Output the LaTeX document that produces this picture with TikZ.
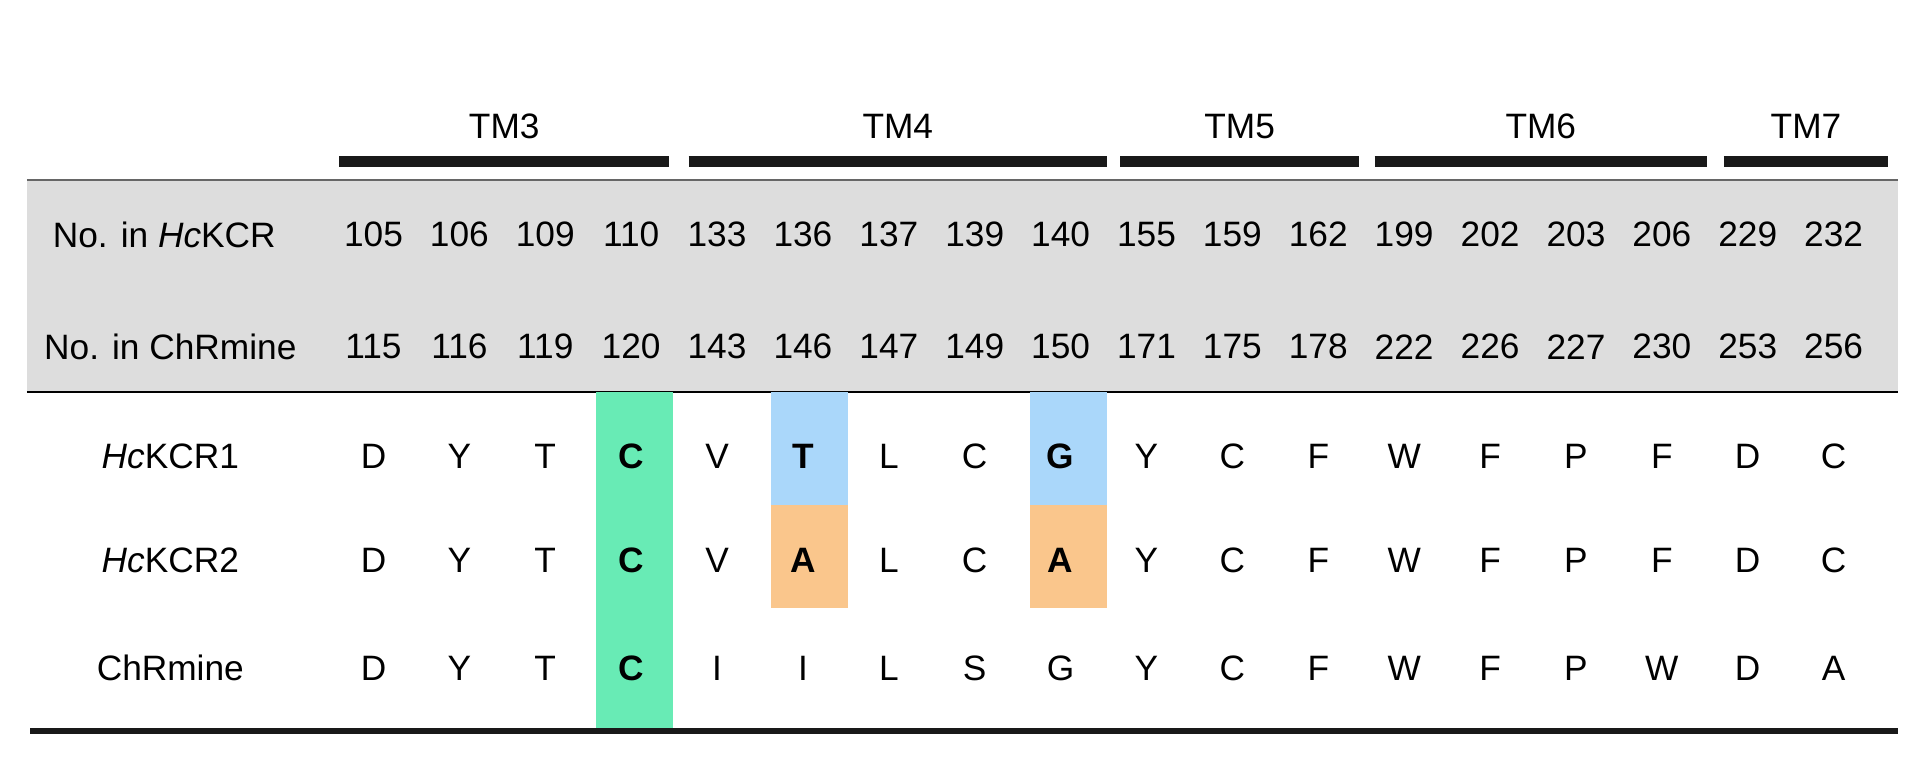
\documentclass[tikz,border=0pt]{standalone}
\usepackage{fontspec}
\setmainfont{Liberation Sans}
\begin{document}
\begin{tikzpicture}[x=1pt,y=-1pt,
  txt/.style={font=\fontsize{29}{34}\selectfont, inner sep=0pt, anchor=center},
  hl/.style={font=\fontsize{29}{34}\selectfont\bfseries, inner sep=0pt, anchor=center},
  tmbar/.style={line width=9pt, draw=black!90}]
\useasboundingbox (0,0) rectangle (1570,626);
\definecolor{gband}{RGB}{221,221,221}
\definecolor{hgreen}{RGB}{104,235,181}
\definecolor{hblue}{RGB}{170,215,250}
\definecolor{horange}{RGB}{250,198,140}
% gray band
\fill[gband] (22,148) rectangle (1560,322);
\draw[line width=2pt, black!60] (22,148) -- (1560,148);
\draw[line width=2pt] (22,322) -- (1560,322);
% highlights
\fill[hgreen] (490,322) rectangle (553,600);
\fill[hblue] (634,322) rectangle (697,415);
\fill[horange] (634,415) rectangle (697,500);
\fill[hblue] (847,322) rectangle (910,415);
\fill[horange] (847,415) rectangle (910,500);
\draw[line width=5pt, black!90] (25,601) -- (1560,601);
% TM bars
\foreach \a/\b/\n in {279/550/TM3,566/910/TM4,921/1117/TM5,1130/1403/TM6,1417/1552/TM7}{
  \draw[tmbar] (\a,133) -- (\b,133);
  \node[txt] (\n) at ({(\a+\b)/2},104) {\n};
}
% row labels
\node[txt] (l1) at (135,193) {No. in \textit{Hc}KCR};
\node[txt] (l2) at (140,285) {No. in ChRmine};
\node[txt] (r1) at (140,375) {\textit{Hc}KCR1};
\node[txt] (r2) at (140,461) {\textit{Hc}KCR2};
\node[txt] (r3) at (140,549) {ChRmine};
% columns
\foreach [count=\i] \a/\b/\c/\d/\e in {
 105/115/D/D/D, 106/116/Y/Y/Y, 109/119/T/T/T, 110/120/C/C/C,
 133/143/V/V/I, 136/146/T/A/I, 137/147/L/L/L, 139/149/C/C/S,
 140/150/G/A/G, 155/171/Y/Y/Y, 159/175/C/C/C, 162/178/F/F/F,
 199/222/W/W/W, 202/226/F/F/F, 203/227/P/P/P, 206/230/F/F/W,
 229/253/D/D/D, 232/256/C/C/A}{
  \pgfmathsetmacro{\xx}{307+(\i-1)*70.6}
  \node[txt] (n\i) at (\xx,193) {\a};
  \node[txt] (m\i) at (\xx,285) {\b};
  \ifnum\i=4 \node[hl] (p\i) at (\xx,375) {\c};\node[hl] (q\i) at (\xx,461) {\d};\node[hl] (s\i) at (\xx,549) {\e};
  \else\ifnum\i=6 \node[hl] (p\i) at (\xx,375) {\c};\node[hl] (q\i) at (\xx,461) {\d};\node[txt] (s\i) at (\xx,549) {\e};
  \else\ifnum\i=9 \node[hl] (p\i) at (\xx,375) {\c};\node[hl] (q\i) at (\xx,461) {\d};\node[txt] (s\i) at (\xx,549) {\e};
  \else \node[txt] (p\i) at (\xx,375) {\c};\node[txt] (q\i) at (\xx,461) {\d};\node[txt] (s\i) at (\xx,549) {\e};
  \fi\fi\fi
}
\end{tikzpicture}
\end{document}
